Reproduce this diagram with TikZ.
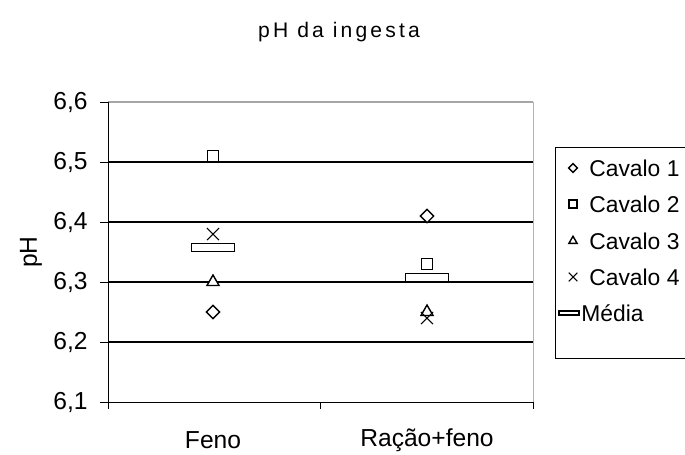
\documentclass[tikz,border=0pt]{standalone}
\usepackage{fontspec}
\setmainfont{Liberation Sans}
\usetikzlibrary{shapes.geometric,shapes.misc}

\def\ymin{6.1}
\def\ymax{6.6}

\tikzset{
 big/.style={font=\fontsize{14}{16}\selectfont},
 legfont/.style={font=\fontsize{13}{15}\selectfont},
 grid line/.style={line width=1.4pt},
 mark base/.style={draw, fill=white, line width=0.8pt, inner sep=0pt},
 sqmark/.style={mark base, rectangle, minimum size=0.23cm},
 dmmark/.style={mark base, diamond, minimum size=0.28cm},
 trmark/.style={mark base, regular polygon, regular polygon sides=3, minimum size=0.28cm},
 xmark/.style={draw, cross out, line width=0.6pt, minimum size=0.22cm, inner sep=0pt},
 avgmark/.style={mark base, rectangle, minimum width=0.86cm, minimum height=0.16cm},
}

\begin{document}
\begin{tikzpicture}[x=0.02cm, y=0.02cm]
 \useasboundingbox (0,0) rectangle (685,454);
 % title
 \node (title) at (339,422)
  {\fontsize{12}{14}\selectfont\addfontfeature{LetterSpace=15}pH da ingesta};
 % y label
 \node[big, rotate=90] (ylabel) at (31,202) {pH};

 \begin{scope}[shift={(108,52)}, y=12cm, yshift=-73.2cm]
  % gridlines
  \foreach \v in {6.2,6.3,6.4,6.5}
   \draw[grid line] (0,\v) -- (425,\v);
  \draw[line width=1.2pt, gray!70] (0,\ymax) -- (425,\ymax);
  % plot border
  \draw[gray!60] (425,\ymin) -- (425,\ymax);
  % y axis
  \draw (0,\ymin) -- (0,\ymax);
  \foreach \v/\t in {6.1/{6,1},6.2/{6,2},6.3/{6,3},6.4/{6,4},6.5/{6,5},6.6/{6,6}} {
   \draw (-8,\v) -- (0,\v);
   \node[big, anchor=east, inner sep=0pt] (tick-\t) at (-20,\v) {\t};
  }
  % x axis
  \draw (-8,\ymin) -- (425,\ymin);
  \foreach \x in {0,212,425}
   \draw (\x,\ymin) -- ++(0pt,-0.14cm);
  \node[big] (cat-feno) at (105,6.037) {Feno};
  \node[big] (cat-racao) at (319,6.037) {Ração+feno};

  % "Values"
  \node[dmmark] (feno-c1) at (105,6.25) {};
  \node[sqmark] (feno-c2) at (105,6.51) {};
  \node[trmark] (feno-c3) at (105,6.30) {};
  \node[xmark] (feno-c4) at (105,6.38) {};
  \node[avgmark] (feno-media) at (105,6.358) {};
  \node[dmmark] (racao-c1) at (319,6.41) {};
  \node[sqmark] (racao-c2) at (319,6.33) {};
  \node[trmark] (racao-c3) at (319,6.25) {};
  \node[xmark] (racao-c4) at (319,6.24) {};
  \node[avgmark] (racao-media) at (319,6.308) {};
 \end{scope}

 % legend
 \draw (690,307) -- (555,307) -- (555,96) -- (690,96);
 \node[dmmark, minimum size=0.19cm] (leg-c1) at (573,286) {};
 \node[sqmark, minimum size=0.16cm] (leg-c2) at (573,250) {};
 \node[trmark, minimum size=0.19cm] (leg-c3) at (573,213) {};
 \node[xmark, minimum size=0.15cm] (leg-c4) at (573,177) {};
 \node[mark base, rectangle, minimum width=0.40cm, minimum height=0.08cm]
  (leg-media) at (569,141) {};
 \foreach \y/\t/\n in {286/Cavalo 1/c1,250/Cavalo 2/c2,213/Cavalo 3/c3,177/Cavalo 4/c4}
  \node[legfont, anchor=west, inner sep=0pt] (legtext-\n) at (589,\y) {\t};
 \node[legfont, anchor=west, inner sep=0pt] (legtext-media) at (581,141) {Média};
\end{tikzpicture}
\end{document}
